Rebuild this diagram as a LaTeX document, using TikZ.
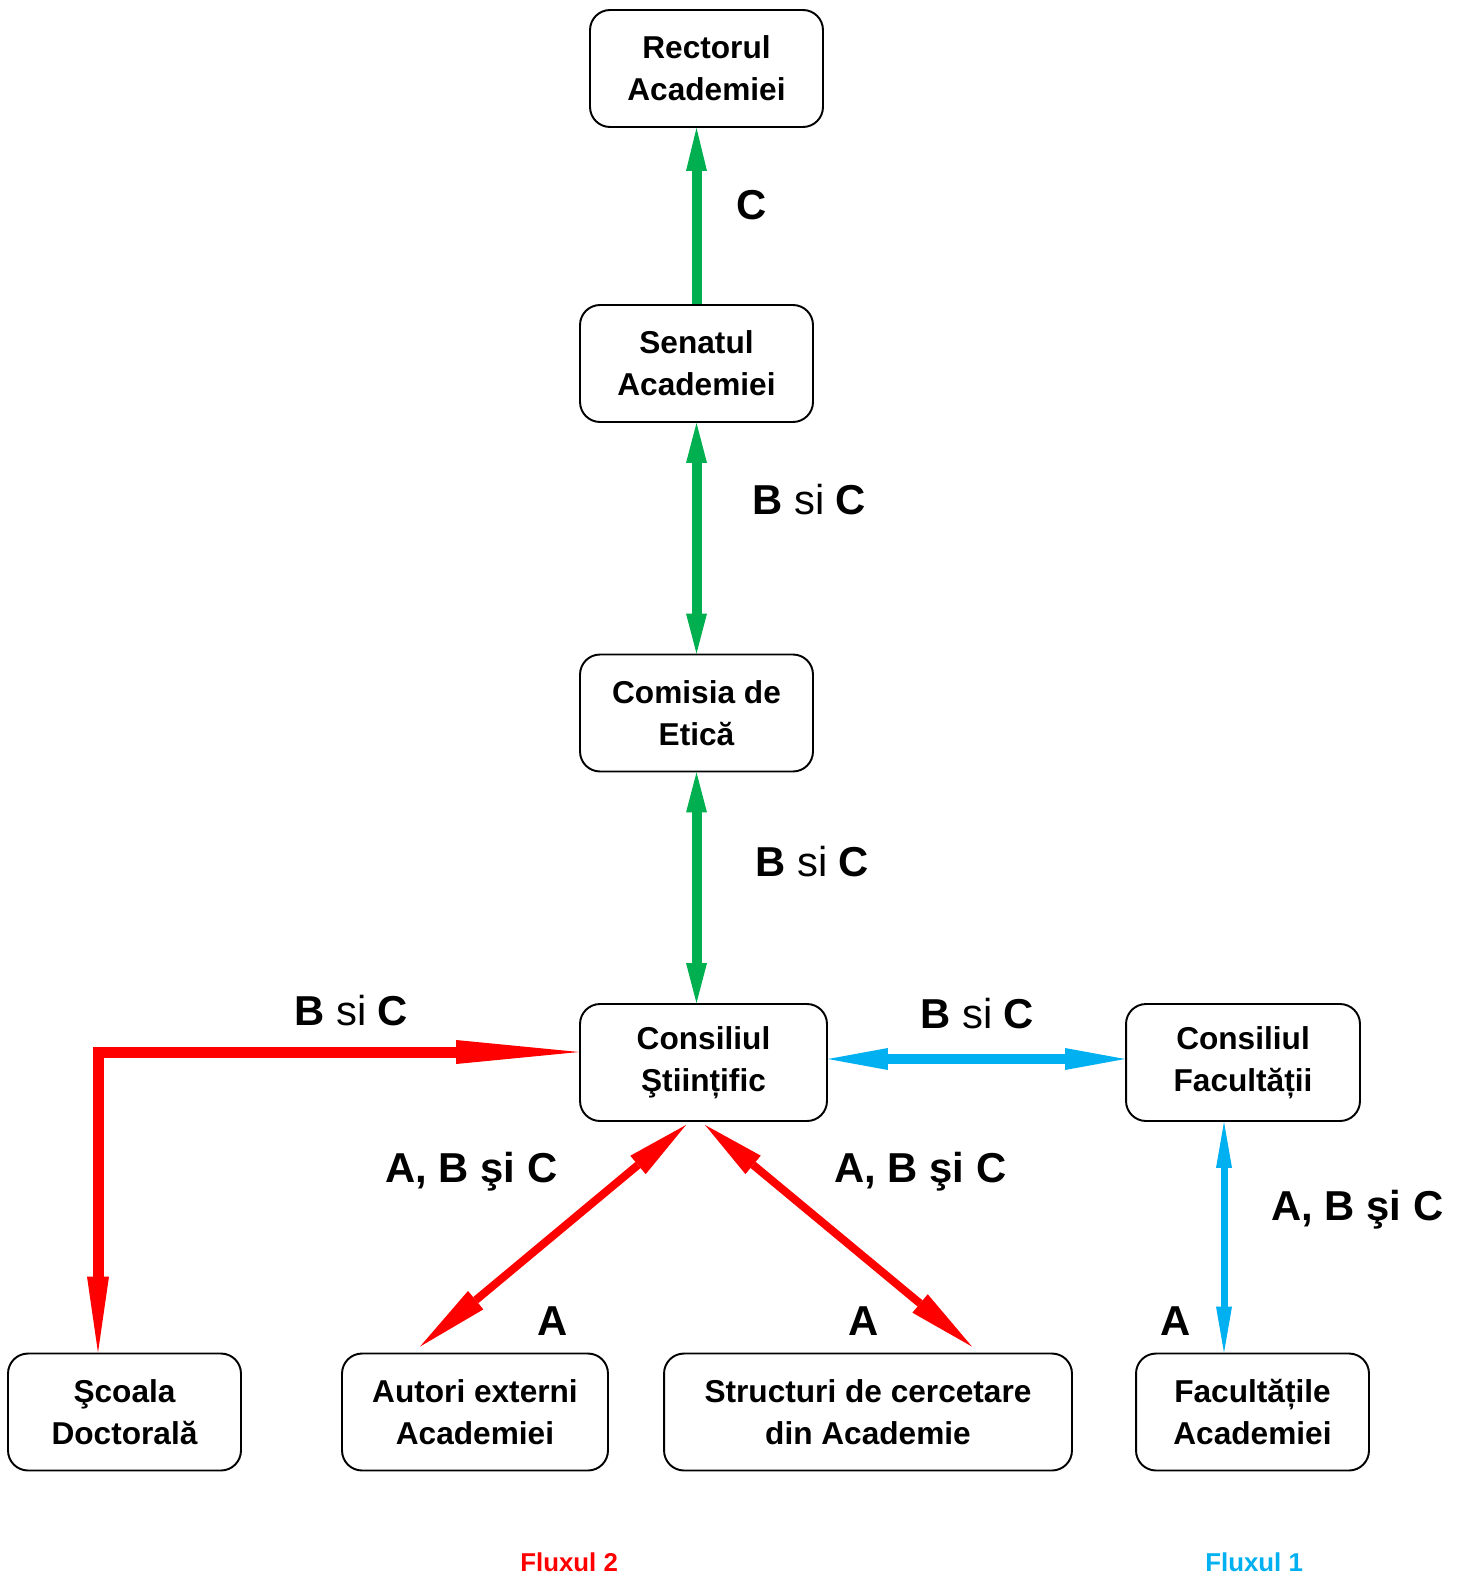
\documentclass[tikz,border=0pt]{standalone}
\usepackage{fontspec}
\setmainfont{Liberation Sans}
\usetikzlibrary{arrows.meta}
\definecolor{flgreen}{HTML}{00B050}
\definecolor{flred}{HTML}{FF0000}
\definecolor{flblue}{HTML}{00B0F0}
\tikzset{
box/.style={
  rectangle,rounded corners=0.4cm,
  inner sep=0pt,
  minimum width=4.66cm,
  minimum height=2.34cm,
  align=center,
  draw=black,line width=1.1pt,
  fill=white,
  font=\bfseries\fontsize{18}{23.8}\selectfont
  },
lbl/.style={anchor=base west,inner sep=0pt,font=\fontsize{23.8}{28}\selectfont},
blbl/.style={lbl,font=\bfseries\fontsize{23.8}{28}\selectfont},
flx/.style={anchor=base west,inner sep=0pt,font=\bfseries\fontsize{14.7}{18}\selectfont},
grarr/.style={draw=flgreen,line width=0.2cm},
rdarr/.style={draw=flred,line width=0.16cm},
blarr/.style={draw=flblue,line width=0.2cm}
}
\begin{document}
\begin{tikzpicture}[x=0.02cm,y=-0.02cm]
    \useasboundingbox (0,0) rectangle (1459,1575);
    % boxes
    \node[box] (rec) at (706.5,68.5) {Rectorul\\Academiei};
    \node[box] (sen) at (696.5,363.5) {Senatul\\Academiei};
    \node[box] (com) at (696.5,713) {Comisia de\\Etică};
    \node[box,minimum width=4.94cm] (cst) at (703.5,1062.5) {Consiliul\\Ştiințific};
    \node[box,minimum width=4.68cm] (cfa) at (1243,1062.5) {Consiliul\\Facultății};
    \node[box] (sco) at (124.5,1412) {Şcoala\\Doctorală};
    \node[box,minimum width=5.32cm] (aut) at (475,1412) {Autori externi\\Academiei};
    \node[box,minimum width=8.16cm] (str) at (868,1412) {Structuri de cercetare\\din Academie};
    \node[box] (fac) at (1252.5,1412) {Facultățile\\Academiei};
    % green flow
    \draw[grarr,-{Triangle[length=0.86cm,width=0.42cm,line width=0pt 0]}] (sen.north) -- (sen.north |- rec.south);
    \draw[grarr,{Triangle[length=0.8cm,width=0.42cm,line width=0pt 0]}-{Triangle[length=0.8cm,width=0.42cm,line width=0pt 0]}] (sen.south) -- (com.north);
    \draw[grarr,{Triangle[length=0.8cm,width=0.42cm,line width=0pt 0]}-{Triangle[length=0.8cm,width=0.42cm,line width=0pt 0]}] (com.south) -- (com.south |- cst.north);
    % red flow
    \coordinate (rc) at (98,1052);
    \draw[rdarr,line width=0.22cm,{Triangle[length=1.52cm,width=0.44cm,line width=0pt 0]}-{Triangle[length=2.46cm,width=0.48cm,line width=0pt 0]}]
        (rc |- sco.north) -- (rc) -- (cst.west |- rc);
    \draw[rdarr,{Triangle[length=1.25cm,width=0.48cm,line width=0pt 0]}-{Triangle[length=1.45cm,width=0.48cm,line width=0pt 0]}]
        ([xshift=-0.35cm,yshift=-0.06cm]cst.south) -- ([xshift=-1.1cm,yshift=0.12cm]aut.north);
    \draw[rdarr,{Triangle[length=1.25cm,width=0.48cm,line width=0pt 0]}-{Triangle[length=1.35cm,width=0.48cm,line width=0pt 0]}]
        ([xshift=0.03cm,yshift=-0.06cm]cst.south) -- ([xshift=2.08cm,yshift=0.12cm]str.north);
    % blue flow
    \draw[blarr,{Triangle[length=1.2cm,width=0.44cm,line width=0pt 0]}-{Triangle[length=1.2cm,width=0.44cm,line width=0pt 0]}]
        ([yshift=0.07cm]cst.east) -- ([yshift=0.07cm]cfa.west);
    \coordinate (cv) at ([xshift=-0.38cm]cfa.south);
    \draw[blarr,line width=0.14cm,{Triangle[length=0.92cm,width=0.32cm,line width=0pt 0]}-{Triangle[length=0.92cm,width=0.32cm,line width=0pt 0]}]
        (cv) -- (cv |- fac.north);
    % labels
    \node[lbl] (lc) at (736,219) {\textbf{C}};
    \node[lbl] (lsc) at (752,514) {\textbf{B} si \textbf{C}};
    \node[lbl] (lcc) at (755,876) {\textbf{B} si \textbf{C}};
    \node[lbl] (lsd) at (294,1025) {\textbf{B} si \textbf{C}};
    \node[lbl] (lcf) at (920,1028) {\textbf{B} si \textbf{C}};
    \node[blbl] (lau) at (385,1182) {A, B şi C};
    \node[blbl] (lst) at (834,1182) {A, B şi C};
    \node[blbl] (lfa) at (1271,1220) {A, B şi C};
    \node[blbl] (la1) at (537,1335) {A};
    \node[blbl] (la2) at (848,1335) {A};
    \node[blbl] (la3) at (1160,1335) {A};
    \node[flx,text=flred] (fl2) at (520,1571) {Fluxul 2};
    \node[flx,text=flblue] (fl1) at (1205,1571) {Fluxul 1};
\end{tikzpicture}
\end{document}
